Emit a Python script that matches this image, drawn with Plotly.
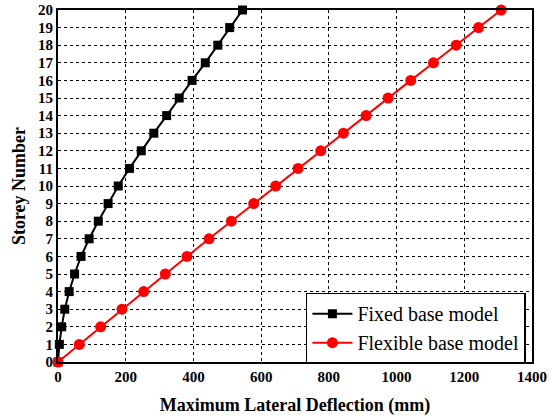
import plotly.graph_objects as go

storeys = list(range(0, 21))
fixed_base = [0, 4, 11, 20, 33, 49, 68, 92, 119, 148, 178, 211, 246, 283, 321, 358, 396, 435, 472, 507, 545]
flexible_base = [0, 63, 126, 189, 253, 317, 381, 446, 512, 578, 643, 709, 776, 843, 910, 975, 1042, 1109, 1176, 1242, 1309]
x_ticks = [0, 200, 400, 600, 800, 1000, 1200, 1400]

FONT = "Liberation Serif"

fig = go.Figure()
fig.add_trace(go.Scatter(
    x=fixed_base, y=storeys, mode="lines+markers", name="Fixed base model",
    line=dict(color="black", width=2),
    marker=dict(symbol="square", size=9, color="black"),
))
fig.add_trace(go.Scatter(
    x=flexible_base, y=storeys, mode="lines+markers", name="Flexible base model",
    line=dict(color="#ff0000", width=2),
    marker=dict(symbol="circle", size=11, color="#ff0000"),
))

fig.update_layout(
    width=553, height=420,
    margin=dict(l=58, r=21, t=10, b=58, autoexpand=False),
    paper_bgcolor="white", plot_bgcolor="white",
    font=dict(family=FONT, color="black"),
    showlegend=True,
    legend=dict(
        x=0.523, y=0.197, xanchor="left", yanchor="top",
        bgcolor="white", bordercolor="black", borderwidth=1.5,
        font=dict(family=FONT, size=20, color="black"),
        tracegroupgap=0, itemwidth=40,
    ),
)
fig.update_xaxes(
    range=[0, 1400], tickvals=x_ticks, ticktext=["<b>%d</b>" % v for v in x_ticks],
    showgrid=True, gridcolor="black", griddash="dot", gridwidth=1,
    showline=True, linecolor="black", linewidth=2, mirror=True, automargin=False,
    zeroline=False, ticks="", tickfont=dict(family=FONT, size=15, color="black"),
    title=dict(text="<b>Maximum Lateral Deflection (mm)</b>", font=dict(family=FONT, size=18, color="black"), standoff=14),
)
fig.update_yaxes(
    range=[0, 20], tickvals=storeys, ticktext=["<b>%d</b>" % v for v in storeys],
    showgrid=True, gridcolor="black", griddash="dot", gridwidth=1,
    showline=True, linecolor="black", linewidth=2, mirror=True, automargin=False,
    zeroline=False, ticks="", tickfont=dict(family=FONT, size=15, color="black"),
    title=dict(text="<b>Storey Number</b>", font=dict(family=FONT, size=18, color="black"), standoff=8),
)
for tr in fig.data:
    tr.cliponaxis = False

fig.write_html("out.html")
